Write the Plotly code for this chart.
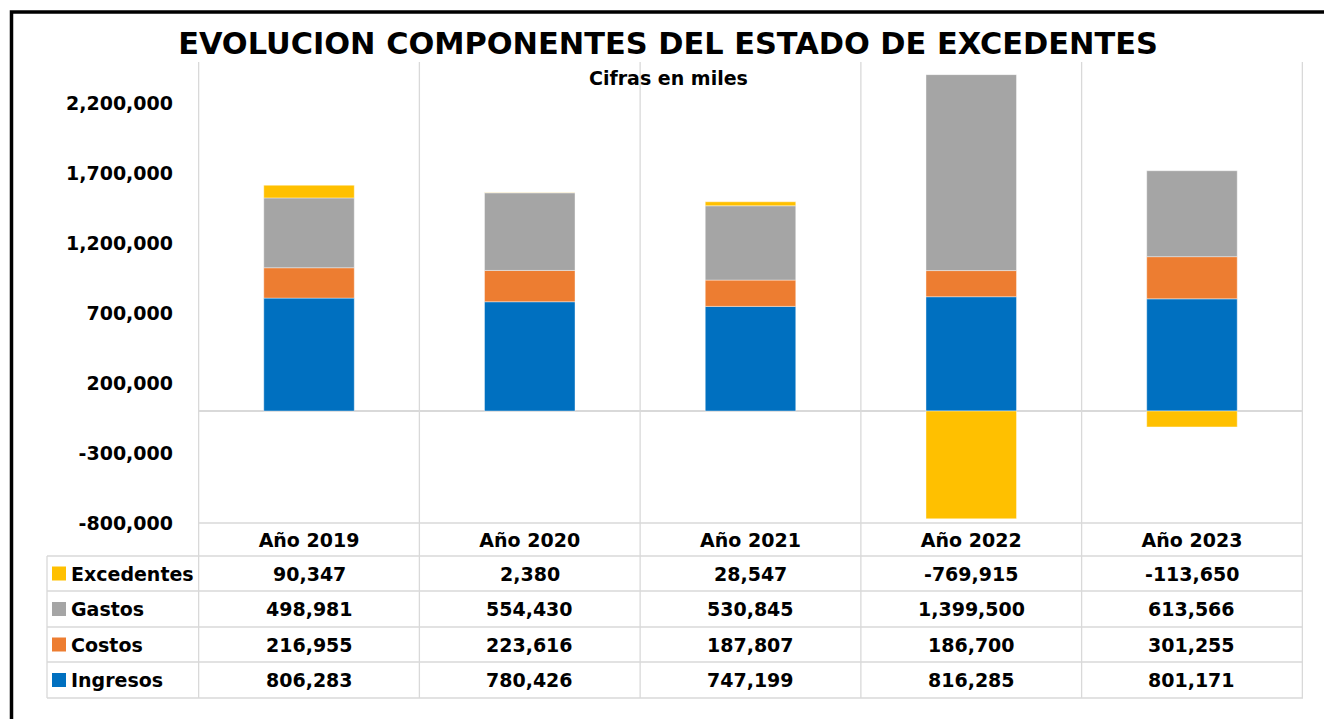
import plotly.graph_objects as go

# ---- data ----
categories = ["Año 2019", "Año 2020", "Año 2021", "Año 2022", "Año 2023"]
ingresos = [806283, 780426, 747199, 816285, 801171]
costos = [216955, 223616, 187807, 186700, 301255]
gastos = [498981, 554430, 530845, 1399500, 613566]
excedentes = [90347, 2380, 28547, -769915, -113650]
y_ticks = [-800000, -300000, 200000, 700000, 1200000, 1700000, 2200000]

series_names = ["Ingresos", "Costos", "Gastos", "Excedentes"]
series_values = [ingresos, costos, gastos, excedentes]
series_colors = ["#0070C0", "#ED7D31", "#A5A5A5", "#FFC000"]

# ---- layout geometry (pixels) ----
W, H = 1324, 719
L, R, T, B = 198, 1303, 62, 523
FONT = "DejaVu Sans"
GRID = "#D9D9D9"


def px_x(px):
    return (px - L) / (R - L)


def px_y(py):
    return (B - py) / (B - T)


fig = go.Figure()
for name, vals, col in zip(series_names, series_values, series_colors):
    fig.add_trace(go.Bar(
        x=categories, y=vals, name=name, width=0.41,
        marker=dict(color=col, line=dict(color="rgba(255,255,255,0.5)", width=0.8)),
        showlegend=False,
    ))

shapes = []
# black frame (top/left visible)
shapes.append(dict(type="rect", xref="paper", yref="paper",
                   x0=px_x(11.5), x1=px_x(1400), y0=px_y(12), y1=px_y(800),
                   line=dict(color="black", width=3.5), fillcolor="rgba(0,0,0,0)", layer="above"))
# vertical category grid lines through plot and table
row_lines = [556, 591, 627, 662, 698]
for i in range(len(categories) + 1):
    shapes.append(dict(type="line", xref="x", yref="paper",
                       x0=i - 0.5, x1=i - 0.5, y0=px_y(698), y1=1,
                       line=dict(color=GRID, width=1.3), layer="below"))
# plot bottom line
shapes.append(dict(type="line", xref="paper", yref="paper",
                   x0=0, x1=1, y0=0, y1=0, line=dict(color=GRID, width=1.3)))
# table horizontal lines
for ry in row_lines:
    shapes.append(dict(type="line", xref="paper", yref="paper",
                       x0=px_x(47), x1=1, y0=px_y(ry), y1=px_y(ry),
                       line=dict(color=GRID, width=1.3)))
# table left edge
shapes.append(dict(type="line", xref="paper", yref="paper",
                   x0=px_x(47), x1=px_x(47), y0=px_y(556), y1=px_y(698),
                   line=dict(color=GRID, width=1.3)))

annotations = []
annotations.append(dict(text="<b>Cifras en miles</b>", xref="paper", yref="paper",
                        x=px_x(668), y=px_y(78), showarrow=False,
                        font=dict(family=FONT, size=19, color="black"),
                        xanchor="center", yanchor="middle"))

# table rows: top to bottom Excedentes, Gastos, Costos, Ingresos
table_order = [3, 2, 1, 0]
for r, si in enumerate(table_order):
    top, bot = row_lines[r], row_lines[r + 1]
    cy = (top + bot) / 2
    shapes.append(dict(type="rect", xref="paper", yref="paper",
                       x0=px_x(52), x1=px_x(66), y0=px_y(cy - 7), y1=px_y(cy + 7),
                       fillcolor=series_colors[si], line=dict(width=0)))
    annotations.append(dict(text="<b>" + series_names[si] + "</b>", xref="paper", yref="paper",
                            x=px_x(69), y=px_y(cy), showarrow=False,
                            xanchor="left", yanchor="middle",
                            font=dict(family=FONT, size=19, color="black")))
    for ci, v in enumerate(series_values[si]):
        annotations.append(dict(text="<b>" + f"{v:,}" + "</b>", xref="x", yref="paper",
                                x=ci, y=px_y(cy), showarrow=False,
                                xanchor="center", yanchor="middle",
                                font=dict(family=FONT, size=19, color="black")))

fig.update_layout(
    width=W, height=H,
    margin=dict(l=L, r=W - R, t=T, b=H - B),
    paper_bgcolor="white", plot_bgcolor="white",
    barmode="relative",
    title=dict(text="<b>EVOLUCION COMPONENTES DEL ESTADO DE EXCEDENTES</b>",
               x=668 / W, y=1 - 43.5 / H, xanchor="center", yanchor="middle",
               font=dict(family=FONT, size=30.4, color="black")),
    xaxis=dict(showgrid=False, showline=False, zeroline=False,
               tickfont=dict(family=FONT, size=19, color="black", weight="bold"),
               ticks="", ticklabelstandoff=4),
    yaxis=dict(range=[-800000, 2492857], tickvals=y_ticks,
               ticktext=[f"{v:,}" for v in y_ticks],
               showgrid=False, zeroline=True, zerolinecolor=GRID, zerolinewidth=1.5,
               showline=False, ticks="",
               tickfont=dict(family=FONT, size=19, color="black", weight="bold"),
               ticklabelstandoff=24),
    shapes=shapes, annotations=annotations,
)

fig.write_html("out.html", config={"displayModeBar": False},
               post_script="document.body.style.margin='0';document.body.style.padding='0';")
